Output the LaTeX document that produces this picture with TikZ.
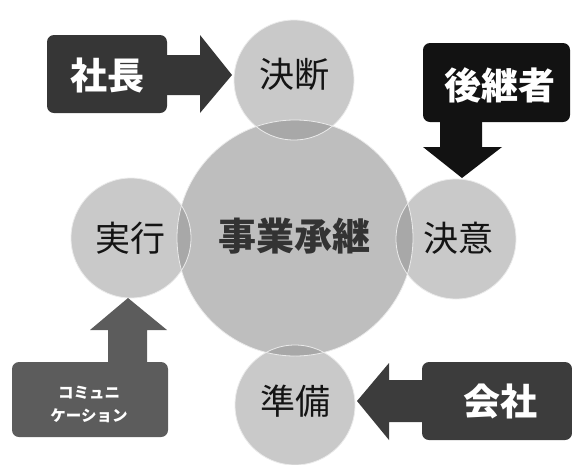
\documentclass[tikz,border=0pt]{standalone}
\usepackage{fontspec}
\newfontfamily\jp{Noto Sans CJK JP}
\definecolor{circA}{HTML}{C9C9C9}
\definecolor{circC}{HTML}{BEBEBE}
\definecolor{lens}{HTML}{A8A8A8}
\definecolor{boxA}{HTML}{363636}
\definecolor{boxB}{HTML}{121212}
\definecolor{boxC}{HTML}{3C3C3C}
\definecolor{boxD}{HTML}{5C5C5C}
\tikzset{
  circlbl/.style={font=\jp\fontsize{35}{40}\selectfont, text=black!92},
  boxlbl/.style={font=\jp\bfseries\fontsize{37}{42}\selectfont, text=white},
  ring/.style={draw=white!92!black, line width=0.8pt},
}
\begin{document}
\begin{tikzpicture}[x=1pt,y=-1pt]
\useasboundingbox (0,0) rectangle (572,464);
% circle centres
\coordinate (cC) at (295,238);
\coordinate (c1) at (294,80);
\coordinate (c2) at (456,239);
\coordinate (c3) at (131,238);
\coordinate (c4) at (295,405);
\def\rC{118}
\def\rS{60}
% fills
\fill[circC] (cC) circle[radius=\rC];
\foreach \c in {c1,c2,c3,c4}{\fill[circA] (\c) circle[radius=\rS];}
\foreach \c in {c1,c2,c3,c4}{
  \begin{scope}
    \clip (cC) circle[radius=\rC];
    \fill[lens] (\c) circle[radius=\rS];
  \end{scope}}
\draw[ring] (cC) circle[radius=\rC];
\foreach \c in {c1,c2,c3,c4}{\draw[ring] (\c) circle[radius=\rS];}
% circle labels
\node[font=\jp\bfseries\fontsize{38}{42}\selectfont, text=black!80] (center) at (294,236) {事業承継};
\node[circlbl] (ketsudan) at (294,74) {決断};
\node[circlbl] (ketsui) at (458,238) {決意};
\node[circlbl] (jikko) at (130,238) {実行};
\node[circlbl] (junbi) at (295,401) {準備};
% boxes
\fill[boxA, rounded corners=7pt] (47,35) rectangle (167,113);
\node[boxlbl] (shacho) at (107,75) {社長};
\fill[boxB, rounded corners=7pt] (423,43) rectangle (570,122);
\node[boxlbl] (kokeisha) at (500,85) {後継者};
\fill[boxC, rounded corners=7pt] (422,362) rectangle (572,440);
\node[boxlbl] (kaisha) at (500,401) {会社};
\fill[boxD, rounded corners=7pt] (12,362) rectangle (168,437);
\node[font=\jp\bfseries\fontsize{15.5}{23}\selectfont, text=white, align=center] (comm) at (89,404) {コミュニ\\ケーション};
% block arrows
\fill[boxA] (166,55) -- (200,55) -- (200,35) -- (232,75) -- (200,113) -- (200,95) -- (166,95) -- cycle;
\fill[boxB] (440,121) -- (440,147) -- (423,147) -- (462,178) -- (502,147) -- (482,147) -- (482,121) -- cycle;
\fill[boxC] (423,380) -- (389,380) -- (389,363) -- (357,401) -- (389,440) -- (389,422) -- (423,422) -- cycle;
\fill[boxD] (108,363) -- (108,330) -- (90,330) -- (128,298) -- (167,330) -- (147,330) -- (147,363) -- cycle;
\end{tikzpicture}
\end{document}
